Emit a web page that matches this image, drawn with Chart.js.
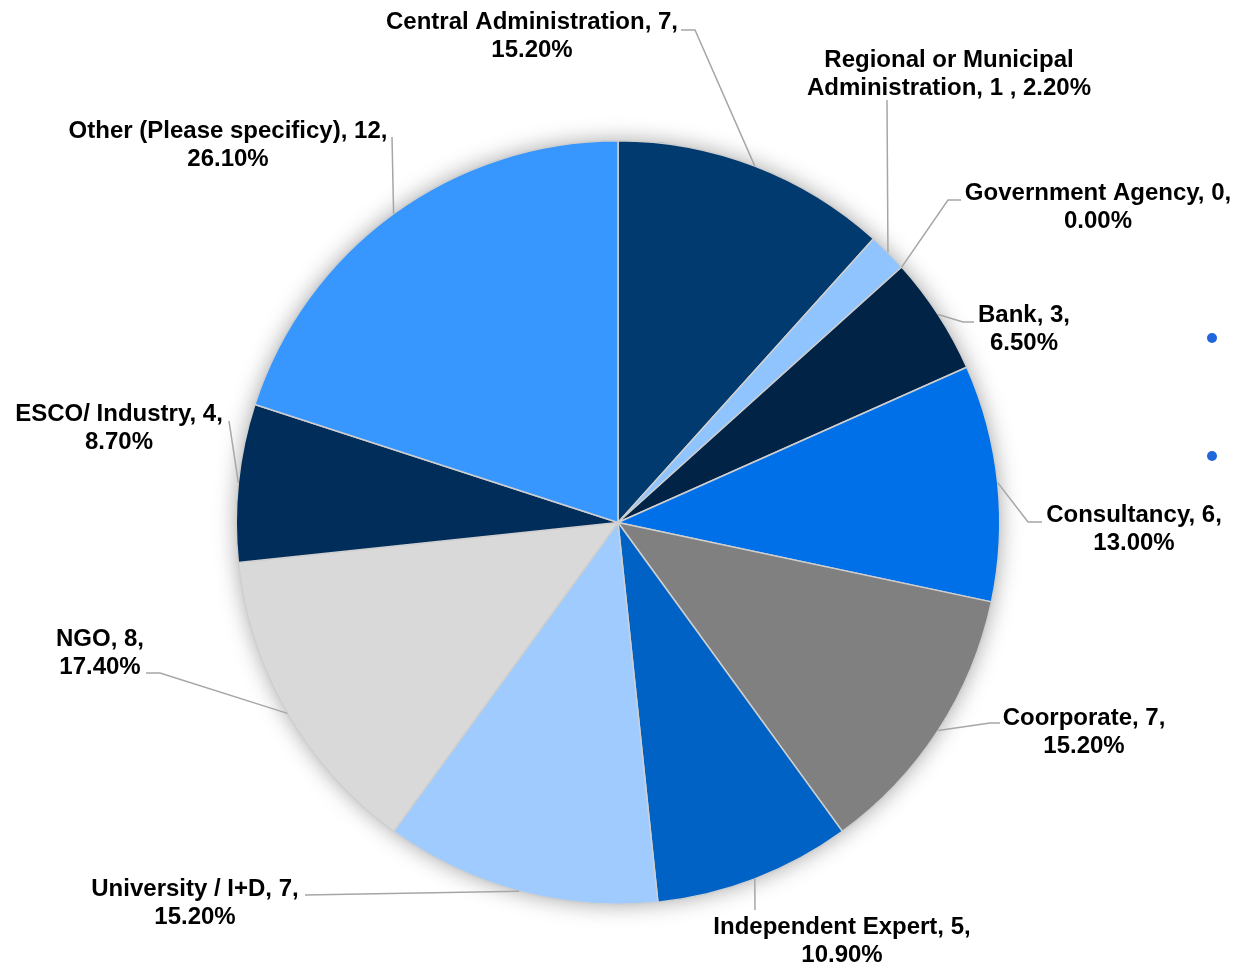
<!DOCTYPE html>
<html>
<head>
<meta charset="utf-8">
<script src="https://cdn.jsdelivr.net/npm/chart.js@4.4.1/dist/chart.umd.min.js"></script>
<style>
  body { margin: 0; background: #fff; }
  #wrap { position: relative; width: 1233px; height: 963px; }
  .dot { position: absolute; width: 10px; height: 10px; border-radius: 50%; background: #2066dd; }
</style>
</head>
<body>
<div id="wrap">
  <canvas id="pie" width="1233" height="963"></canvas>
  <div class="dot" style="left:1207px; top:333px"></div>
  <div class="dot" style="left:1207px; top:451px"></div>
</div>
<script>
// data
const categories = [
    'Central Administration', 'Regional or Municipal Administration', 'Government Agency',
    'Bank', 'Consultancy', 'Coorporate', 'Independent Expert', 'University / I+D',
    'NGO', 'ESCO/ Industry', 'Other (Please specificy)'
];
const counts = [7, 1, 0, 3, 6, 7, 5, 7, 8, 4, 12];
const percents = ['15.20%', '2.20%', '0.00%', '6.50%', '13.00%', '15.20%', '10.90%', '15.20%', '17.40%', '8.70%', '26.10%'];
const colors = ['#003a6e', '#8fc4ff', '#4a90e2', '#002346', '#0070e8', '#808080', '#0062c4', '#9fcbff', '#d9d9d9', '#002d5a', '#3896ff'];

// label layout: text centre (first line), elbow point, end of horizontal tail
const labelLayout = [
    { tx: 532, ty: 22, ex: 695, ey: 30, hx: 681 },
    { tx: 949, ty: 60, ex: 887, ey: 100, hx: 887 },
    { tx: 1098, ty: 193, ex: 948, ey: 200, hx: 961 },
    { tx: 1024, ty: 315, ex: 963, ey: 322, hx: 974 },
    { tx: 1134, ty: 515, ex: 1028, ey: 522, hx: 1042 },
    { tx: 1084, ty: 718, ex: 990, ey: 723, hx: 1000 },
    { tx: 842, ty: 927, ex: 755, ey: 910, hx: 755 },
    { tx: 195, ty: 889, ex: 305, ey: 895, hx: 305 },
    { tx: 100, ty: 639, ex: 160, ey: 673, hx: 146 },
    { tx: 119, ty: 414, ex: 229, ey: 421, hx: 229 },
    { tx: 228, ty: 131, ex: 392, ey: 137, hx: 392 }
];

function labelLines(i) {
    if (i === 1) return ['Regional or Municipal', 'Administration, ' + counts[i] + ' , ' + percents[i]];
    return [categories[i] + ', ' + counts[i] + ',', percents[i]];
}

// soft glow behind the pie
const pieShadow = {
    id: 'pieShadow',
    beforeDatasetsDraw(chart) {
        const arc = chart.getDatasetMeta(0).data[0];
        const ctx = chart.ctx;
        ctx.save();
        ctx.shadowColor = 'rgba(0,0,0,0.35)';
        ctx.shadowBlur = 22;
        ctx.fillStyle = '#ffffff';
        ctx.beginPath();
        ctx.arc(arc.x, arc.y, arc.outerRadius, 0, Math.PI * 2);
        ctx.fill();
        ctx.restore();
    }
};

// leader lines + two-line labels
const pieLabels = {
    id: 'pieLabels',
    afterDatasetsDraw(chart) {
        const ctx = chart.ctx;
        const meta = chart.getDatasetMeta(0);
        ctx.save();
        meta.data.forEach((arc, i) => {
            const p = labelLayout[i];
            const mid = (arc.startAngle + arc.endAngle) / 2;
            const ax = arc.x + Math.cos(mid) * arc.outerRadius;
            const ay = arc.y + Math.sin(mid) * arc.outerRadius;
            ctx.strokeStyle = '#a6a6a6';
            ctx.lineWidth = 1.5;
            ctx.beginPath();
            ctx.moveTo(ax, ay);
            ctx.lineTo(p.ex, p.ey);
            ctx.lineTo(p.hx, p.ey);
            ctx.stroke();

            ctx.fillStyle = '#000';
            ctx.font = 'bold 24px "Liberation Sans", Arial, sans-serif';
            ctx.textAlign = 'center';
            ctx.textBaseline = 'middle';
            labelLines(i).forEach((line, k) => ctx.fillText(line, p.tx, p.ty + k * 28));
        });
        ctx.restore();
    }
};

new Chart(document.getElementById('pie'), {
    type: 'pie',
    data: {
        labels: categories,
        datasets: [{
            data: counts,
            backgroundColor: colors,
            borderColor: '#cfcfcf',
            borderWidth: 1.5
        }]
    },
    options: {
        responsive: false,
        animation: false,
        layout: { padding: { top: 140, bottom: 58, left: 235, right: 232 } },
        plugins: { legend: { display: false }, tooltip: { enabled: false } }
    },
    plugins: [pieShadow, pieLabels]
});
</script>
</body>
</html>
